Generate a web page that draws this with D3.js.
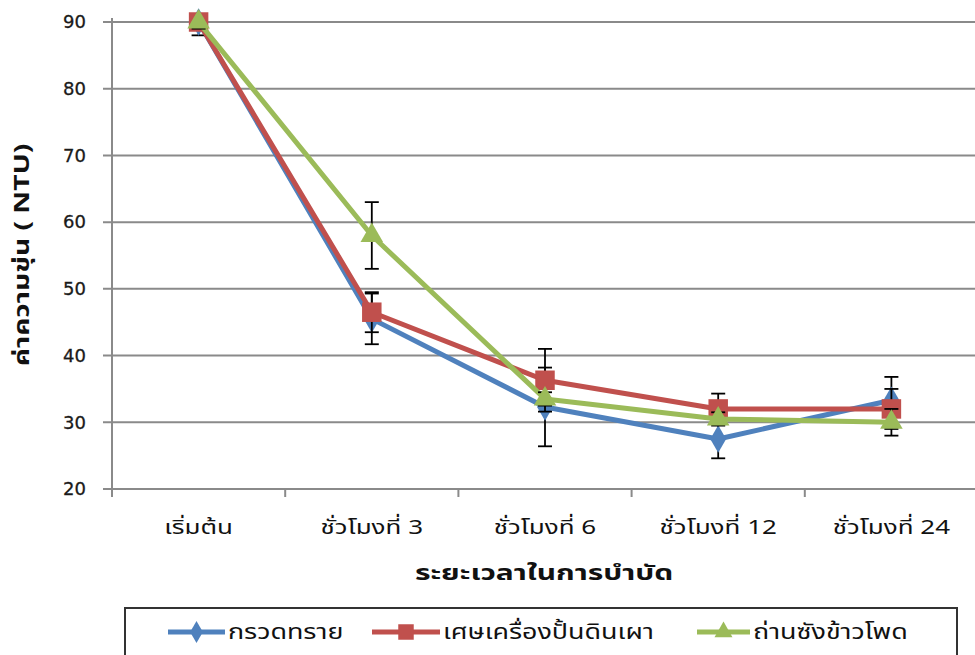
<!DOCTYPE html>
<html><head><meta charset="utf-8">
<script src="https://cdn.jsdelivr.net/npm/d3@7"></script>
<style>body{margin:0;background:#fff;}svg{display:block;}</style>
</head><body>
<script>
const categories = ["เริ่มต้น","ชั่วโมงที่ 3","ชั่วโมงที่ 6","ชั่วโมงที่ 12","ชั่วโมงที่ 24"];
const seriesNames = ["กรวดทราย","เศษเครื่องปั้นดินเผา","ถ่านซังข้าวโพด"];
const sandValues = [90, 45.5, 32.3, 27.5, 33.3];
const sandErrors = [2, 3.8, 5.9, 2.9, 3.5];
const potteryValues = [90, 46.5, 36.3, 32, 32];
const potteryErrors = [1, 3, 4.7, 2.3, 3];
const charcoalValues = [90, 58, 33.5, 30.5, 30];
const charcoalErrors = [1, 5, 1, 1, 2];
const yTicks = [20,30,40,50,60,70,80,90];
const colors = ["#4F81BD","#C0504D","#9BBB59"];
const series = [
  {name: seriesNames[0], values: sandValues, errors: sandErrors, color: colors[0], shape: d3.symbolDiamond},
  {name: seriesNames[1], values: potteryValues, errors: potteryErrors, color: colors[1], shape: d3.symbolSquare},
  {name: seriesNames[2], values: charcoalValues, errors: charcoalErrors, color: colors[2], shape: d3.symbolTriangle}
];
const W = 975, H = 655;
const svg = d3.select("body").append("svg").attr("width", W).attr("height", H);
const x = d3.scaleBand().domain(categories).range([112, 978]);
const y = d3.scaleLinear().domain([20, 90]).range([489, 22]);
const font = "Tahoma, 'Noto Sans Thai', 'Noto Sans', sans-serif";
const grid = "#8a8a8a";

svg.append("defs").append("clipPath").attr("id", "plot")
  .append("rect").attr("x", 112).attr("y", y(90)).attr("width", 870).attr("height", y(20) - y(90));

// gridlines
svg.append("g").selectAll("line").data(yTicks).join("line")
  .attr("x1", 103).attr("x2", 978).attr("y1", d => y(d)).attr("y2", d => y(d))
  .attr("stroke", grid).attr("stroke-width", 2);
// y axis
const yAxis = svg.append("g").attr("transform", "translate(112,0)")
  .call(d3.axisLeft(y).tickValues(yTicks).tickSize(0).tickPadding(26));
yAxis.select(".domain").attr("stroke", grid).attr("stroke-width", 2).attr("d", `M0,${y(90)-4}V${y(20)}`);
yAxis.selectAll("text").attr("font-family", "Tahoma, Verdana, 'DejaVu Sans', sans-serif")
  .attr("font-size", 18).attr("fill", "#1a1a1a").attr("stroke", "#1a1a1a").attr("stroke-width", 0.3);
// x axis
const xAxis = svg.append("g").attr("transform", `translate(0,${y(20)})`)
  .call(d3.axisBottom(x).tickSize(0).tickPadding(31));
xAxis.select(".domain").attr("stroke", grid).attr("stroke-width", 2).attr("d", "M112,0H978");
xAxis.selectAll("text").attr("font-family", font).attr("font-size", 20).attr("fill", "#111")
  .attr("transform", "scale(1.3,1)");
// x ticks at band boundaries
svg.append("g").selectAll("line").data(categories).join("line")
  .attr("x1", d => x(d)).attr("x2", d => x(d)).attr("y1", y(20)).attr("y2", y(20) + 8)
  .attr("stroke", grid).attr("stroke-width", 2);

const cx = d => x(d) + x.bandwidth() / 2;
const line = d3.line().x((d, i) => cx(categories[i])).y(d => y(d));

series.forEach(s => {
  const g = svg.append("g");
  g.append("path").datum(s.values).attr("d", line).attr("fill", "none")
    .attr("stroke", s.color).attr("stroke-width", 5).attr("stroke-linejoin", "round");
  // error bars (clipped to the plot area)
  const eb = g.append("g").attr("stroke", "#000").attr("stroke-width", 1.8).attr("clip-path", "url(#plot)");
  s.values.forEach((v, i) => {
    const px = cx(categories[i]);
    const hi = y(v + s.errors[i]), lo = y(v - s.errors[i]);
    eb.append("line").attr("x1", px).attr("x2", px).attr("y1", hi).attr("y2", lo);
    eb.append("line").attr("x1", px - 7).attr("x2", px + 7).attr("y1", hi).attr("y2", hi);
    eb.append("line").attr("x1", px - 7).attr("x2", px + 7).attr("y1", lo).attr("y2", lo);
  });
  g.selectAll(".m").data(s.values).join("path")
    .attr("transform", (d, i) => `translate(${cx(categories[i])},${y(d)})`)
    .attr("d", d3.symbol().type(s.shape).size(s.shape === d3.symbolSquare ? 380 : 220))
    .attr("fill", s.color);
});

// axis titles
svg.append("text").attr("transform", "translate(544,580) scale(1.36,1)").attr("text-anchor", "middle")
  .attr("font-family", font).attr("font-size", 22).attr("font-weight", "bold").attr("fill", "#111")
  .text("ระยะเวลาในการบำบัด");
svg.append("text").attr("transform", "translate(29,255) rotate(-90) scale(1.28,1)").attr("text-anchor", "middle")
  .attr("font-family", font).attr("font-size", 22).attr("font-weight", "bold").attr("fill", "#111")
  .text("ค่าความขุ่น ( NTU)");

// legend
svg.append("rect").attr("x", 125).attr("y", 608).attr("width", 832).attr("height", 70)
  .attr("fill", "#fff").attr("stroke", "#333").attr("stroke-width", 2);
const legendX = [[168, 225], [372, 440], [697, 750]];
series.forEach((s, i) => {
  const [a, b] = legendX[i];
  const lg = svg.append("g").attr("transform", `translate(0,632)`);
  lg.append("line").attr("x1", a).attr("x2", b).attr("stroke", s.color).attr("stroke-width", 5);
  lg.append("path").attr("transform", `translate(${(a + b) / 2},0)`)
    .attr("d", d3.symbol().type(s.shape).size(s.shape === d3.symbolSquare ? 240 : 140)).attr("fill", s.color);
  lg.append("text").attr("transform", `translate(${b + 3},0) scale(1.28,1)`).attr("dy", "0.35em")
    .attr("font-family", font).attr("font-size", 21).attr("fill", "#111").text(s.name);
});
</script>
</body></html>
